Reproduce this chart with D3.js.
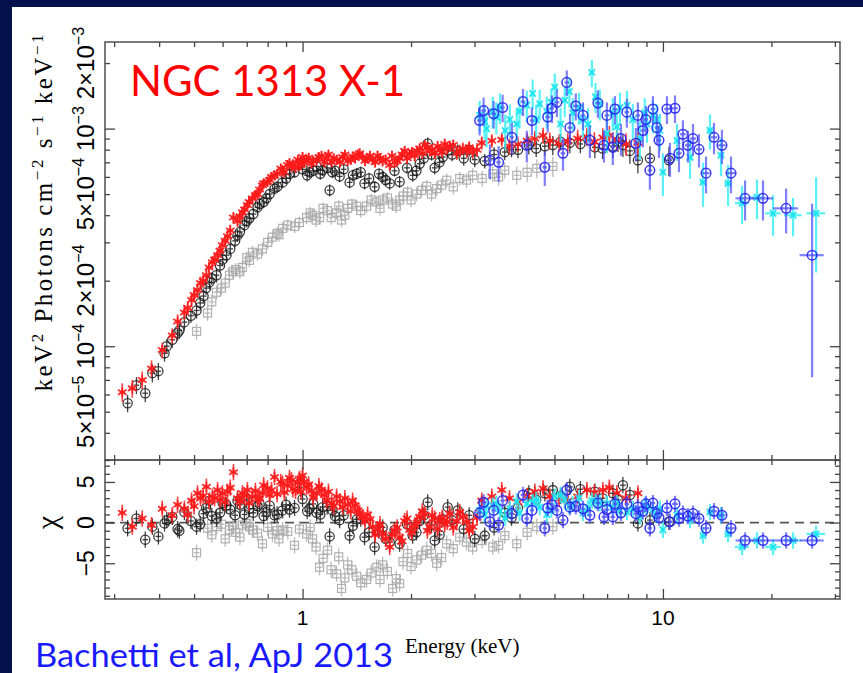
<!DOCTYPE html>
<html><head><meta charset="utf-8">
<script src="https://cdn.jsdelivr.net/npm/d3@7"></script>
<style>html,body{margin:0;padding:0;background:#02104c;}svg{display:block}</style>
</head><body><svg id="c" width="863" height="673"></svg>
<script>
// ---------------- DATA ----------------
// energies in keV, fluxes in units of 1e-4 keV^2 photons cm^-2 s^-1 keV^-1, residuals in chi
const xDomain = [0.283, 31];
const yDomain = [0.3, 25];
const resDomain = [-9.4, 7.7];

const xMajorTicks = [1, 10];
const xMajorLabels = ["1", "10"];
const xMinorTicks = [0.3,0.4,0.5,0.6,0.7,0.8,0.9,2,3,4,5,6,7,8,9,20,30];
const yMajorTicks = [1, 10];
const yMinorTicks = [0.3,0.4,0.5,0.6,0.7,0.8,0.9,2,3,4,5,6,7,8,9,20];
const yLabelValues = [0.5, 1, 2, 5, 10, 20];
const yLabelMantissa = ["5\u00d710", "10", "2\u00d710", "5\u00d710", "10", "2\u00d710"];
const yLabelExponent = ["\u22125", "\u22124", "\u22124", "\u22124", "\u22123", "\u22123"];
const resMajorTicks = [-5, 0, 5];
const resMajorLabels = ["\u22125", "0", "5"];
const resMinorTicks = [-9,-8,-7,-6,-4,-3,-2,-1,1,2,3,4,6,7];

// black circles
const blackE = [0.327,0.346,0.366,0.383,0.398,0.414,0.435,0.455,0.470,0.508,0.531,0.552,0.577,0.615,0.660,0.69,0.712,0.75,0.794,0.836,0.880,0.92,0.981,1.046,1.094,1.137,1.189,1.23,1.267,1.351,1.413,1.486,1.585,1.668,1.745,1.859,2.021,2.113,2.225,2.326,2.45,2.528,2.695,3.005,3.203,3.64,3.96,4.244,4.702,4.948,5.517,6.473,7.262,7.743,8.097,8.522,9.203,10.39,
  0.42,0.45,0.49,0.52,0.54,0.56,0.59,0.60,0.63,0.65,0.67,0.70,0.73,0.76,0.78,0.81,0.85,0.90,0.95,1.00,1.03,1.07,1.12,1.17,1.21,1.30,1.38,1.45,1.53,1.63,1.70,1.80,1.95,2.07,2.17,2.28,2.40,2.60,2.80,2.90,3.40,3.80,4.45,5.20,5.90,6.80,7.50];
const blackF = [0.547,0.662,0.608,0.752,0.768,0.929,1.07,1.18,1.29,1.46,1.70,1.97,2.12,2.62,3.23,3.6,3.87,4.35,4.78,5.3,5.66,6.2,6.9,6.3,6.7,6.43,5.21,6.4,6.03,5.66,6.2,5.6,5.4,6.0,5.6,5.7,6.1,6.9,8.55,6.6,7.4,7.93,7.9,7.2,7.1,7.8,8.0,8.4,8.3,8.4,8.6,8.2,8.3,8.4,7.9,7.16,7.3,7.16,
  1.0,1.15,1.38,1.58,1.85,2.05,2.35,2.50,2.80,3.05,3.35,3.75,4.05,4.5,4.6,5.0,5.4,5.9,6.3,6.5,6.1,6.4,6.2,6.6,6.3,6.5,6.1,6.3,5.9,6.2,5.8,6.4,6.6,6.4,7.3,7.6,7.0,7.6,7.3,8.0,7.6,8.0,8.1,8.7,8.5,8.1,8.7];
const blackErr = [0.05,0.06,0.055,0.07,0.07,0.08,0.09,0.1,0.11,0.12,0.13,0.15,0.16,0.19,0.22,0.24,0.26,0.28,0.3,0.32,0.34,0.36,0.4,0.38,0.4,0.38,0.33,0.38,0.36,0.35,0.37,0.35,0.34,0.37,0.36,0.36,0.4,0.45,0.55,0.45,0.5,0.55,0.55,0.55,0.55,0.65,0.7,0.8,0.8,0.85,0.9,0.9,1.0,1.0,1.0,0.95,1.0,1.1,
  0.08,0.09,0.1,0.12,0.13,0.14,0.16,0.17,0.19,0.2,0.22,0.24,0.26,0.28,0.29,0.3,0.32,0.34,0.36,0.38,0.38,0.38,0.38,0.38,0.38,0.38,0.37,0.37,0.36,0.36,0.36,0.37,0.4,0.42,0.45,0.47,0.48,0.52,0.55,0.56,0.6,0.62,0.7,0.75,0.8,0.85,0.9];
const blackRes = [-0.7,0.5,-2.1,-0.5,-1.7,-0.1,0.7,-1.0,1.3,-0.5,1.1,2.7,0.5,2.1,2.7,1.0,1.7,2.0,1.3,0.9,1.5,1.6,4.8,1.7,1.2,1.9,-1.7,0.8,0.3,-1.6,0.4,-1.8,-3.0,-0.6,-2.4,-2.6,-1.6,0.2,2.5,-2.2,0.4,1.9,1.5,-2.0,-1.6,1.2,1.8,3.6,3.6,4.0,4.4,3.8,3.6,4.6,3.4,-0.1,0.3,0.1,
  0.3,-0.8,0.2,-0.2,1.8,0.8,1.2,2.4,1.6,0.9,2.2,2.8,1.2,2.3,0.8,2.1,1.0,2.2,1.8,2.9,1.4,2.3,1.0,2.0,1.5,0.9,-0.4,0.5,-1.2,-1.0,-2.0,-0.9,-0.2,-1.2,0.9,-0.3,-1.5,0.3,-0.8,0.9,-0.6,0.6,2.8,3.3,4.1,3.0,2.8];

// red stars
const redE = [0.316,0.337,0.359,0.381,0.408,0.435,0.470,0.492,0.511,0.521,0.541,0.562,0.581,0.599,0.619,0.643,0.681,0.703,0.726,0.750,0.774,0.799,0.836,0.880,0.908,0.932,0.956,0.981,1.0,1.026,1.059,1.094,1.129,1.166,1.204,1.243,1.292,1.334,1.377,1.422,1.468,1.515,1.565,1.615,1.668,1.745,1.801,1.859,1.920,1.983,2.047,2.113,2.183,2.253,2.326,2.402,2.480,2.560,2.678,2.783,2.855,2.966,3.142,3.571,3.956,4.410,4.854,5.446,6.150,6.813,7.451,8.522,
  0.45,0.48,0.50,0.53,0.55,0.57,0.59,0.61,0.63,0.66,0.67,0.69,0.71,0.74,0.76,0.78,0.81,0.82,0.85,0.87,0.89,0.92,0.94,0.97,0.99,1.01,1.04,1.07,1.11,1.15,1.18,1.22,1.27,1.31,1.36,1.40,1.44,1.49,1.54,1.59,1.64,1.70,1.77,1.83,1.89,1.95,2.01,2.08,2.15,2.22,2.29,2.37,2.44,2.52,2.62,2.73,2.90,3.05,3.35,3.75,4.20,4.65,5.15,5.80,6.45,7.10,7.90];
const redF = [0.615,0.64,0.70,0.79,0.96,1.12,1.43,1.63,1.81,1.95,2.12,2.43,2.62,2.91,3.2,3.9,4.13,4.45,4.78,5.0,5.49,5.7,6.1,6.43,6.8,6.7,6.6,6.9,7.4,7.16,6.9,7.2,7.5,7.3,7.0,7.2,7.4,7.1,7.45,7.6,7.4,7.3,7.2,7.5,7.1,6.8,7.0,7.3,7.9,7.6,7.5,8.1,8.4,7.9,7.7,8.0,8.5,8.3,7.7,8.1,7.9,7.8,8.6,8.9,8.5,9.0,8.8,8.7,9.2,9.1,8.9,8.6,
  1.30,1.50,1.72,2.00,2.30,2.50,2.75,3.05,3.40,3.75,3.95,4.25,4.60,4.95,5.25,5.60,5.80,6.00,6.20,6.55,6.30,6.95,6.85,7.20,6.80,7.0,7.35,7.1,7.4,7.0,7.6,7.3,7.0,7.6,7.2,7.3,7.7,7.1,7.5,7.0,7.3,7.2,7.5,7.1,7.6,7.3,7.8,7.9,7.7,8.2,8.0,8.3,7.8,8.1,8.4,7.9,8.2,8.0,8.8,8.3,8.8,9.3,8.6,9.0,8.7,9.3,8.5];
const redErr = [0.06,0.06,0.065,0.07,0.08,0.09,0.11,0.12,0.13,0.14,0.15,0.17,0.18,0.2,0.21,0.24,0.25,0.26,0.28,0.29,0.3,0.31,0.33,0.34,0.35,0.35,0.35,0.36,0.37,0.36,0.36,0.37,0.37,0.37,0.37,0.37,0.38,0.38,0.38,0.39,0.39,0.39,0.4,0.4,0.4,0.4,0.41,0.42,0.43,0.43,0.44,0.45,0.46,0.46,0.47,0.48,0.5,0.5,0.52,0.54,0.55,0.56,0.6,0.65,0.7,0.75,0.8,0.85,0.9,0.95,1.0,1.05,
  0.10,0.11,0.12,0.14,0.15,0.17,0.18,0.2,0.22,0.23,0.24,0.25,0.26,0.28,0.29,0.3,0.31,0.32,0.33,0.34,0.34,0.35,0.35,0.36,0.36,0.36,0.37,0.37,0.37,0.37,0.37,0.37,0.38,0.38,0.38,0.39,0.39,0.39,0.4,0.4,0.4,0.4,0.41,0.42,0.42,0.43,0.44,0.45,0.45,0.46,0.47,0.48,0.49,0.5,0.51,0.53,0.55,0.58,0.62,0.68,0.72,0.78,0.82,0.88,0.92,0.98,1.02];
const redRes = [1.2,-0.5,0.5,-0.3,1.7,0.9,1.7,2.7,3.6,3.0,4.4,3.2,4.0,3.6,3.8,6.2,3.6,4.0,3.2,2.9,3.6,4.2,5.6,4.8,4.6,5.2,3.9,5.4,5.8,4.4,3.9,3.6,4.0,2.7,2.4,3.2,1.9,2.2,2.7,1.5,0.7,1.0,-0.5,-0.8,-1.4,-3.0,-1.0,-1.8,0.2,-0.9,-0.3,0.7,1.0,-0.5,0.5,0.3,-0.2,1.1,0.2,0.7,0.1,-0.5,2.7,4.0,2.5,3.8,3.2,2.7,4.0,4.0,3.6,3.6,
  2.2,1.0,2.0,3.3,2.6,3.0,2.8,2.5,4.3,3.0,2.6,3.3,2.4,3.9,3.0,4.6,3.4,4.0,3.5,5.0,3.7,5.5,4.1,4.9,3.8,5.0,4.7,3.1,4.5,3.4,3.8,2.0,2.6,3.0,1.4,2.1,1.2,0.2,0.4,-1.5,-0.2,-2.0,-1.5,-0.6,-2.3,0.5,-1.2,0.0,1.4,-1.0,0.9,-0.8,0.6,0.1,-0.6,1.3,-1.0,0.6,3.2,3.0,3.3,4.2,2.9,3.2,3.7,4.3,3.0];

// grey squares
const greyE = [0.508,0.545,0.577,0.596,0.627,0.652,0.681,0.712,0.726,0.774,0.825,0.850,0.880,0.950,1.026,1.066,1.115,1.173,1.243,1.283,1.334,1.413,1.505,1.606,1.668,1.778,1.859,1.957,2.073,2.211,2.356,2.512,2.730,2.966,3.371,3.640,3.930,4.467,4.948,
  0.56,0.61,0.64,0.67,0.70,0.75,0.80,0.86,0.91,0.98,1.05,1.09,1.14,1.20,1.26,1.31,1.37,1.45,1.55,1.64,1.72,1.82,1.90,2.00,2.14,2.28,2.43,2.62,2.85,3.15,3.50,4.20];
const greyF = [1.17,1.42,1.77,1.85,2.12,2.25,2.3,2.48,2.70,2.80,3.17,3.3,3.48,3.55,3.9,4.0,3.9,4.2,4.1,3.8,4.3,4.4,4.4,4.6,4.7,4.5,4.69,5.1,5.0,5.43,5.3,5.79,5.9,6.1,6.2,6.43,6.1,6.57,6.7,
  1.6,1.95,2.2,2.2,2.55,2.65,3.0,3.25,3.6,3.7,4.1,3.8,4.3,3.9,4.4,4.0,4.5,4.2,4.7,4.3,4.8,4.4,4.9,4.7,5.2,5.0,5.5,5.4,5.8,5.9,6.0,6.3];
const greyErr = [0.1,0.11,0.13,0.14,0.15,0.16,0.17,0.18,0.19,0.2,0.22,0.22,0.23,0.24,0.26,0.27,0.27,0.28,0.28,0.28,0.29,0.3,0.3,0.31,0.32,0.32,0.33,0.35,0.36,0.38,0.39,0.42,0.44,0.47,0.52,0.55,0.58,0.65,0.7,
  0.12,0.14,0.15,0.16,0.17,0.18,0.2,0.22,0.23,0.24,0.26,0.27,0.27,0.28,0.28,0.28,0.29,0.3,0.3,0.31,0.32,0.32,0.34,0.35,0.37,0.38,0.4,0.43,0.46,0.5,0.54,0.62];
const greyRes = [-3.7,-0.7,-0.5,-0.2,-0.9,-1.2,-0.3,-0.5,-0.9,-2.6,-1.4,-1.0,-0.9,-2.8,-1.4,-2.0,-5.5,-3.4,-6.3,-8.1,-5.2,-6.6,-7.0,-5.5,-5.2,-8.1,-7.5,-3.8,-4.6,-3.4,-5.0,-2.6,-1.8,-3.0,-3.0,-1.6,-2.6,-0.5,-0.5,
  -1.5,-2.0,-0.4,-1.8,-0.1,-1.3,-0.6,-2.0,-1.1,-0.8,-0.6,-3.0,-4.4,-5.8,-4.2,-6.8,-5.8,-7.4,-6.2,-7.0,-6.0,-6.9,-4.8,-5.4,-4.0,-3.8,-4.3,-3.2,-2.4,-2.2,-2.8,-1.2];

// blue circles
const blueE = [3.10,3.18,3.31,3.39,3.50,3.59,3.81,4.09,4.19,4.33,4.70,4.79,4.92,5.08,5.28,5.41,5.52,5.73,6.00,6.27,6.60,6.86,6.99,7.26,7.36,7.65,7.94,8.41,8.52,8.80,8.97,9.20,9.38,9.62,9.75,10.26,10.46,10.80,11.08,11.36,11.73,12.12,12.59,13.17,13.86,14.58,15.45,16.9,18.95,21.97,25.94];
const blueF = [10.9,12.1,7.15,11.7,7.0,12.5,9.12,13.3,8.38,10.9,6.64,11.3,12.4,13.2,7.7,16.3,10.1,12.7,11.5,8.83,13.1,8.38,11.5,8.2,12.3,9.0,11.9,8.56,11.5,9.8,11.0,6.43,12.3,10.1,8.83,12.3,7.3,12.4,7.7,9.42,8.38,9.0,8.03,6.24,9.12,8.38,6.24,4.78,4.78,4.30,2.62];
const blueErr = [1.6,1.8,1.3,1.7,1.3,1.8,1.5,1.9,1.4,1.6,1.2,1.7,1.8,1.9,1.3,2.2,1.6,1.8,1.7,1.5,1.9,1.4,1.7,1.4,1.8,1.5,1.8,1.5,1.7,1.6,1.7,1.2,1.8,1.6,1.5,1.8,1.3,1.8,1.4,1.5,1.4,1.5,1.4,1.2,1.5,1.5,1.2,1.0,1.0,1.0,1.9];
const blueRes = [1.2,2.5,0.1,1.5,-0.3,2.7,1.1,3.4,0.5,1.5,-0.7,1.8,2.2,1.5,0.3,4.0,1.9,2.0,1.7,0.9,2.4,0.7,1.6,0.7,2.3,1.2,2.3,1.1,1.9,1.4,2.3,-0.7,2.4,1.1,0.6,1.8,0.1,2.3,0.5,1.1,0.8,1.1,0.5,-0.7,1.4,0.9,-0.7,-2.2,-2.2,-2.2,-2.2];
const blueBin = [0.05,0.05,0.05,0.05,0.05,0.05,0.05,0.06,0.06,0.06,0.07,0.07,0.07,0.08,0.08,0.08,0.08,0.09,0.09,0.1,0.1,0.1,0.1,0.11,0.11,0.11,0.12,0.12,0.12,0.13,0.13,0.13,0.14,0.14,0.14,0.18,0.18,0.2,0.2,0.22,0.22,0.25,0.25,0.3,0.3,0.35,0.4,1.0,1.25,1.75,2.0];

// cyan crosses
const cyanE = [3.10,3.24,3.37,3.53,3.76,3.93,4.19,4.35,4.55,4.76,5.01,5.34,5.62,6.00,6.35,6.68,6.99,7.26,7.60,8.25,8.63,9.03,9.38,9.81,10.0,10.94,11.89,12.92,13.51,14.49,15.16,16.58,18.24,20.21,22.97,26.61,
  3.2,3.45,3.65,4.0,4.45,4.9,5.2,5.5,5.85,6.2,6.5,7.45,7.95,8.9,9.6];
const cyanF = [11.5,10.0,12.0,12.5,11.0,10.5,12.8,14.5,13.0,12.0,15.5,13.5,11.8,11.0,18.1,13.0,9.5,11.8,12.5,11.0,9.0,10.5,11.5,9.8,6.3,8.8,7.38,5.67,9.81,7.54,5.6,4.54,4.83,4.08,4.0,4.08,
  10.8,11.3,9.8,12.0,11.0,13.2,10.5,14.8,12.5,10.5,14.0,10.2,12.8,11.8,11.0];
const cyanErr = [1.9,1.8,2.0,2.0,1.9,1.9,2.1,2.3,2.1,2.0,2.4,2.2,2.0,1.9,2.6,2.1,1.8,2.0,2.1,2.0,1.8,1.9,2.0,1.9,1.4,1.7,1.5,1.3,1.8,1.5,1.2,0.9,1.0,0.86,0.8,1.9,
  1.9,1.9,1.8,2.0,1.9,2.1,1.9,2.3,2.1,1.9,2.2,1.9,2.1,2.0,2.0];
const cyanRes = [1.5,2.0,2.1,1.4,1.7,2.6,2.3,2.5,1.9,1.0,3.2,2.8,2.3,1.2,2.7,2.4,2.3,1.9,1.5,1.7,0.8,1.9,1.6,1.7,-0.9,0.9,0.3,-1.6,1.3,0.9,-1.4,-3.0,-2.2,-3.0,-2.2,-1.4,
  1.0,2.3,0.6,1.2,2.8,1.6,3.4,2.0,3.0,1.8,2.6,2.4,1.3,2.1,0.9];
const cyanBin = [0.05,0.05,0.05,0.05,0.05,0.06,0.06,0.06,0.07,0.07,0.08,0.08,0.08,0.09,0.1,0.1,0.1,0.11,0.11,0.12,0.12,0.13,0.14,0.14,0.15,0.18,0.2,0.25,0.28,0.3,0.35,0.75,0.9,1.0,1.3,1.6,
  0.05,0.05,0.05,0.06,0.07,0.07,0.08,0.08,0.09,0.1,0.1,0.11,0.12,0.13,0.14];

// ---------------- DRAW ----------------
const W = 863, H = 673;
const L = 105, R = 840, T = 42, MID = 460, B = 599;
const svg = d3.select("#c");
svg.append("rect").attr("width", W).attr("height", H).attr("fill", "#02104c");
svg.append("rect").attr("x", 12).attr("y", 7).attr("width", W - 12).attr("height", H - 7).attr("fill", "#fff");

const x = d3.scaleLog().domain(xDomain).range([L, R]);
const yM = d3.scaleLog().domain(yDomain).range([MID, T]);
const yR = d3.scaleLinear().domain(resDomain).range([B, MID]);

const defs = svg.append("defs");
defs.append("clipPath").attr("id", "clipM").append("rect").attr("x", L).attr("y", T).attr("width", R - L).attr("height", MID - T);
defs.append("clipPath").attr("id", "clipR").append("rect").attr("x", L).attr("y", MID).attr("width", R - L).attr("height", B - MID);

// dashed zero line
svg.append("line").attr("x1", L).attr("x2", R).attr("y1", yR(0)).attr("y2", yR(0))
  .attr("stroke", "#555").attr("stroke-width", 1.6).attr("stroke-dasharray", "9,6");

const symAsterisk = { draw(ctx, size) { const r = Math.sqrt(size);
  for (let k = 0; k < 3; k++) { const a = Math.PI / 2 + k * Math.PI / 3;
    ctx.moveTo(r * Math.cos(a), r * Math.sin(a)); ctx.lineTo(-r * Math.cos(a), -r * Math.sin(a)); } } };
const symTimes = { draw(ctx, size) { const r = Math.sqrt(size);
  ctx.moveTo(-r, -r); ctx.lineTo(r, r); ctx.moveTo(r, -r); ctx.lineTo(-r, r); } };

function drawSeries(s) {
  const gM = svg.append("g").attr("clip-path", "url(#clipM)");
  const gR = svg.append("g").attr("clip-path", "url(#clipR)");
  s.E.forEach((e, i) => {
    const xc = x(e);
    let x0, x1;
    if (s.bin) { x0 = x(Math.max(e - s.bin[i], 0.01)); x1 = x(e + s.bin[i]); }
    else { x0 = x(e / Math.pow(10, s.dex)); x1 = x(e * Math.pow(10, s.dex)); }
    const f = s.F[i], er = s.Err[i], r = s.Res[i];
    const panels = [
      [gM, yM(f), yM(f + er), yM(Math.max(f - er, 0.05))],
      [gR, yR(r), yR(r + 1), yR(r - 1)]
    ];
    panels.forEach(([g, yc, yt, yb]) => {
      g.append("line").attr("x1", xc).attr("x2", xc).attr("y1", yt).attr("y2", yb)
        .attr("stroke", s.bar).attr("stroke-width", s.barW).attr("stroke-opacity", s.barOp);
      g.append("line").attr("x1", x0).attr("x2", x1).attr("y1", yc).attr("y2", yc)
        .attr("stroke", s.bar).attr("stroke-width", s.barW).attr("stroke-opacity", s.barOp);
      if (s.marker === "circle") {
        g.append("circle").attr("cx", xc).attr("cy", yc).attr("r", s.size)
          .attr("fill", "none").attr("stroke", s.color).attr("stroke-width", s.mw).attr("stroke-opacity", s.mOp);
      } else if (s.marker === "square") {
        g.append("rect").attr("x", xc - s.size).attr("y", yc - s.size).attr("width", 2 * s.size).attr("height", 2 * s.size)
          .attr("fill", "none").attr("stroke", s.color).attr("stroke-width", s.mw).attr("stroke-opacity", s.mOp);
      } else {
        const t = s.marker === "asterisk" ? symAsterisk : symTimes;
        g.append("path").attr("transform", `translate(${xc},${yc})`)
          .attr("d", d3.symbol().type(t).size(s.size * s.size)())
          .attr("fill", "none").attr("stroke", s.color).attr("stroke-width", s.mw).attr("stroke-opacity", s.mOp);
      }
    });
  });
}

drawSeries({E: greyE, F: greyF, Err: greyErr, Res: greyRes, dex: 0.008, marker: "square", size: 4,
  color: "#a8a8a8", mw: 1.2, mOp: 0.9, bar: "#b4b4b4", barW: 1.3, barOp: 0.9});
drawSeries({E: blackE, F: blackF, Err: blackErr, Res: blackRes, dex: 0.008, marker: "circle", size: 4.6,
  color: "#1a1a1a", mw: 1.3, mOp: 0.85, bar: "#222", barW: 1.3, barOp: 0.85});
drawSeries({E: redE, F: redF, Err: redErr, Res: redRes, dex: 0.008, marker: "asterisk", size: 5,
  color: "#ff1a1a", mw: 1.8, mOp: 0.9, bar: "#ff2020", barW: 1.6, barOp: 0.85});
drawSeries({E: cyanE, F: cyanF, Err: cyanErr, Res: cyanRes, bin: cyanBin, marker: "times", size: 3.2,
  color: "#18e4ee", mw: 1.8, mOp: 0.95, bar: "#30eef4", barW: 2.2, barOp: 0.8});
drawSeries({E: blueE, F: blueF, Err: blueErr, Res: blueRes, bin: blueBin, marker: "circle", size: 4.8,
  color: "#2323f0", mw: 1.5, mOp: 0.9, bar: "#4a4aff", barW: 2.2, barOp: 0.7});

// frames
[[T, MID], [MID, B]].forEach(([a, b]) => {
  svg.append("rect").attr("x", L).attr("y", a).attr("width", R - L).attr("height", b - a)
    .attr("fill", "none").attr("stroke", "#5a5a5a").attr("stroke-width", 1.6);
});

// ticks via d3 axes
function tickAxis(axisFn, scale, vals, len, tr) {
  const g = svg.append("g").attr("transform", tr)
    .call(axisFn(scale).tickValues(vals).tickSize(-len).tickFormat(""));
  g.select(".domain").remove();
  g.selectAll(".tick line").attr("stroke", "#444").attr("stroke-width", 1.3);
}
[[d3.axisTop, T], [d3.axisBottom, MID], [d3.axisTop, MID], [d3.axisBottom, B]].forEach(([fn, yy]) => {
  tickAxis(fn, x, xMajorTicks, 10, `translate(0,${yy})`);
  tickAxis(fn, x, xMinorTicks, 5, `translate(0,${yy})`);
});
[[d3.axisLeft, L], [d3.axisRight, R]].forEach(([fn, xx]) => {
  tickAxis(fn, yM, yMajorTicks, 10, `translate(${xx},0)`);
  tickAxis(fn, yM, yMinorTicks, 5, `translate(${xx},0)`);
  tickAxis(fn, yR, resMajorTicks, 10, `translate(${xx},0)`);
  tickAxis(fn, yR, resMinorTicks, 5, `translate(${xx},0)`);
});

const SANS = "'Liberation Sans', Arial, Helvetica, sans-serif";
const SERIF = "'Liberation Serif', 'Times New Roman', Times, serif";
// x tick labels
xMajorTicks.forEach((v, i) => {
  svg.append("text").attr("x", x(v)).attr("y", 625).attr("text-anchor", "middle")
    .attr("font-family", SANS).attr("font-size", 21).attr("fill", "#000")
    .text(xMajorLabels[i]);
});
// y tick labels (main)
yLabelValues.forEach((v, i) => {
  const t = svg.append("text").attr("transform", `translate(94,${yM(v)}) rotate(-90)`)
    .attr("text-anchor", "middle").attr("font-family", SANS)
    .attr("font-size", 24).attr("fill", "#000");
  t.append("tspan").text(yLabelMantissa[i]);
  t.append("tspan").attr("dy", -10).attr("font-size", 16).text(yLabelExponent[i]);
});
// residual labels
resMajorTicks.forEach((v, i) => {
  svg.append("text").attr("transform", `translate(94,${yR(v)}) rotate(-90)`)
    .attr("text-anchor", "middle").attr("font-family", SANS)
    .attr("font-size", 23).attr("fill", "#000").text(resMajorLabels[i]);
});

// y axis title
const yt = svg.append("text").attr("transform", "translate(52,213) rotate(-90)")
  .attr("text-anchor", "middle").attr("font-family", SERIF)
  .attr("font-size", 25).attr("fill", "#000").attr("textLength", 357).attr("lengthAdjust", "spacing");
const ytParts = [["keV", 0], ["2", 1], [" Photons cm", 0], ["\u22122", 1], [" s", 0], ["\u22121", 1], [" keV", 0], ["\u22121", 1]];
let up = false;
ytParts.forEach(([s, sup]) => {
  const ts = yt.append("tspan").text(s);
  if (sup && !up) { ts.attr("dy", -9).attr("font-size", 17); up = true; }
  else if (!sup && up) { ts.attr("dy", 9); up = false; }
  else if (sup) { ts.attr("font-size", 17); }
});
// chi label
svg.append("text").attr("transform", `translate(57,${yR(0)}) rotate(-90)`).attr("text-anchor", "middle")
  .attr("font-family", SERIF).attr("font-size", 30).attr("fill", "#000").text("\u03c7");

// x axis title
svg.append("text").attr("x", 405).attr("y", 653)
  .attr("font-family", SERIF).attr("font-size", 21).attr("fill", "#000")
  .text("Energy (keV)");

// overlay texts
svg.append("text").attr("x", 130).attr("y", 96)
  .attr("font-family", "Lato, 'Open Sans', sans-serif").attr("font-size", 43).attr("fill", "#ff0000")
  .attr("textLength", 275).attr("lengthAdjust", "spacingAndGlyphs").text("NGC 1313 X-1");
svg.append("text").attr("x", 35).attr("y", 667)
  .attr("font-family", "Lato, 'Open Sans', sans-serif").attr("font-size", 33).attr("fill", "#1a1aff")
  .attr("textLength", 358).attr("lengthAdjust", "spacingAndGlyphs").text("Bachetti et al, ApJ 2013");
</script></body></html>
